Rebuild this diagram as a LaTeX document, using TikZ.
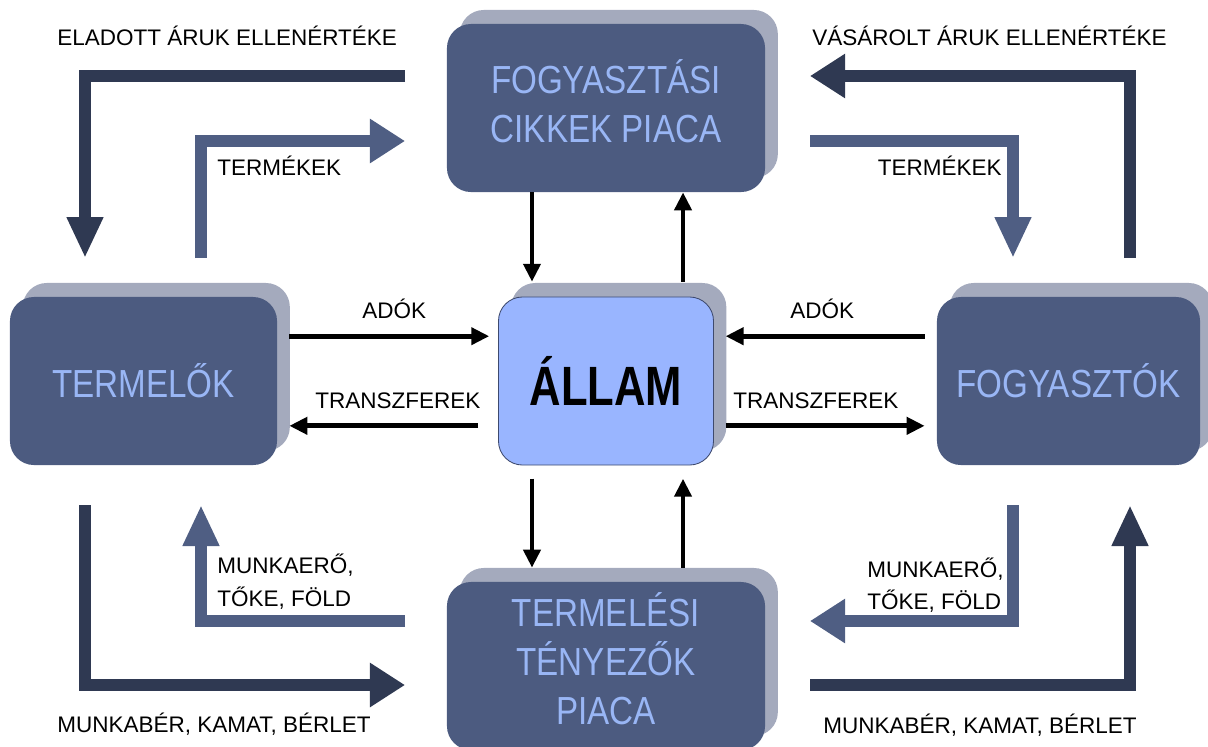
\documentclass[tikz,border=0pt]{standalone}
\usepackage{fontspec}
\setmainfont{Liberation Sans}
\usetikzlibrary{arrows.meta,shadows}
\definecolor{boxblue}{RGB}{76,91,128}
\definecolor{shadegray}{RGB}{164,170,189}
\definecolor{txtblue}{RGB}{153,182,245}
\definecolor{statefill}{RGB}{153,181,255}
\definecolor{stateline}{RGB}{62,74,110}
\definecolor{darkflow}{RGB}{47,57,82}
\definecolor{lightflow}{RGB}{79,94,131}
\newcommand{\stretchtxt}[2]{\scalebox{1}[#1]{#2}}
\tikzset{
  mkt/.style={rectangle, rounded corners=0.6cm, fill=boxblue, text=txtblue, minimum height=4.2cm, inner sep=0pt,
    font=\fontsize{23.6}{29.5}\selectfont,
    drop shadow={shadow xshift=0.32cm, shadow yshift=0.35cm, fill=shadegray, opacity=1}},
  lbl/.style={inner sep=0pt, font=\fontsize{16}{19}\selectfont},
  tarr/.style={line width=0.12cm, -{Triangle[width=0.42cm,length=0.45cm]}},
  hflow/.style={line width=0.31cm, -{Triangle[width=1.05cm,length=0.875cm]}},
  vflow/.style={line width=0.31cm, -{Triangle[width=0.85cm,length=1.025cm]}},
}
\begin{document}
\begin{tikzpicture}[x=0.025cm,y=-0.025cm]
\path[use as bounding box, clip] (0,0) rectangle (1208,746);
% markets and sectors
\node[mkt, minimum width=7.95cm] (fcp) at (606,108) {\stretchtxt{1.18}{\begin{tabular}{@{}c@{}}FOGYASZTÁSI\\CIKKEK PIACA\end{tabular}}};
\node[mkt, minimum width=6.675cm] (term) at (143.5,381) {\stretchtxt{1.18}{TERMELŐK}};
\node[mkt, minimum width=6.575cm] (fogy) at (1068.5,381) {\stretchtxt{1.18}{FOGYASZTÓK}};
\node[mkt, minimum width=7.95cm] (tpi) at (606,666) {\stretchtxt{1.18}{\begin{tabular}{@{}c@{}}TERMELÉSI\\TÉNYEZŐK\\PIACA\end{tabular}}};
\node[mkt, minimum width=5.375cm, fill=statefill, draw=stateline, line width=0.6pt, text=black,
  font=\bfseries\fontsize{31}{37}\selectfont] (allam) at (606,381) {\stretchtxt{1.27}{ÁLLAM}};
% state flows
\draw[tarr] ([xshift=-1.85cm]fcp.south) -- ([xshift=-1.85cm,yshift=0.37cm]allam.north);
\draw[tarr] ([xshift=1.925cm,yshift=0.37cm]allam.north) -- ([xshift=1.925cm]fcp.south);
\draw[tarr] ([xshift=-1.85cm,yshift=-0.33cm]allam.south) -- ([xshift=-1.85cm,yshift=0.35cm]tpi.north);
\draw[tarr] ([xshift=1.925cm,yshift=0.35cm]tpi.north) -- ([xshift=1.925cm,yshift=-0.33cm]allam.south);
\draw[tarr] ([xshift=0.3cm,yshift=1.12cm]term.east) -- ([xshift=-0.22cm,yshift=1.12cm]allam.west);
\draw[tarr] ([xshift=-0.5cm,yshift=-1.12cm]allam.west) -- ([xshift=0.3cm,yshift=-1.12cm]term.east);
\draw[tarr] ([xshift=-0.3cm,yshift=1.12cm]fogy.west) -- ([xshift=0.29cm,yshift=1.12cm]allam.east);
\draw[tarr] ([xshift=0.29cm,yshift=-1.12cm]allam.east) -- ([xshift=-0.3cm,yshift=-1.12cm]fogy.west);
\node[lbl, anchor=base west] (adok1) at (362,318) {ADÓK};
\node[lbl, anchor=base west] (adok2) at (790,318) {ADÓK};
\node[lbl, anchor=base west] (tr1) at (315,408) {TRANSZFEREK};
\node[lbl, anchor=base west] (tr2) at (733,408) {TRANSZFEREK};
% goods market loop
\coordinate (s1) at (405,76); \coordinate (t1) at (85,258);
\draw[vflow, color=darkflow] (s1) -| (t1);
\coordinate (s2) at (201,258); \coordinate (t2) at (405,141);
\draw[hflow, color=lightflow] (s2) |- (t2);
\coordinate (s3) at (1130,258); \coordinate (t3) at (810,76);
\draw[hflow, color=darkflow] (s3) |- (t3);
\coordinate (s4) at (810,141); \coordinate (t4) at (1013,258);
\draw[vflow, color=lightflow] (s4) -| (t4);
\node[lbl, anchor=base west] (ear1) at (57,45) {ELADOTT ÁRUK ELLENÉRTÉKE};
\node[lbl, anchor=base east] (ear2) at (1167,45) {VÁSÁROLT ÁRUK ELLENÉRTÉKE};
\node[lbl, anchor=base west] (tk1) at (217,175) {TERMÉKEK};
\node[lbl, anchor=base east] (tk2) at (1002,175) {TERMÉKEK};
% factor market loop
\coordinate (s5) at (85,505); \coordinate (t5) at (405,685);
\draw[hflow, color=darkflow] (s5) |- (t5);
\coordinate (s6) at (405,621); \coordinate (t6) at (201,505);
\draw[vflow, color=lightflow] (s6) -| (t6);
\coordinate (s7) at (1013,505); \coordinate (t7) at (810,621);
\draw[hflow, color=lightflow] (s7) |- (t7);
\coordinate (s8) at (810,685); \coordinate (t8) at (1130,505);
\draw[vflow, color=darkflow] (s8) -| (t8);
\node[lbl, anchor=base west] (mu1) at (217,573) {MUNKAERŐ,};
\node[lbl, anchor=base west] (tf1) at (217,606) {TŐKE, FÖLD};
\node[lbl, anchor=base west] (mu2) at (867,577) {MUNKAERŐ,};
\node[lbl, anchor=base west] (tf2) at (867,609) {TŐKE, FÖLD};
\node[lbl, anchor=base west] (mb1) at (57,732) {MUNKABÉR, KAMAT, BÉRLET};
\node[lbl, anchor=base west] (mb2) at (823,733) {MUNKABÉR, KAMAT, BÉRLET};
\end{tikzpicture}
\end{document}
